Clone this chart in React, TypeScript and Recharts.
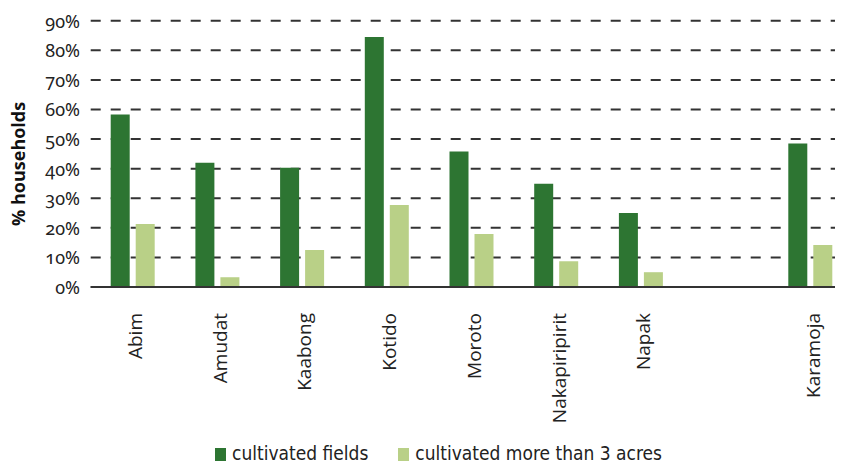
import React from "react";
import { BarChart, Bar, XAxis, YAxis, CartesianGrid, Legend } from "recharts";

const categories = ["Abim", "Amudat", "Kaabong", "Kotido", "Moroto", "Nakapiripirit", "Napak", "", "Karamoja"];
const cultivatedFields = [58.3, 42.0, 40.3, 84.5, 45.8, 34.9, 25.0, null, 48.5];
const moreThan3Acres = [21.3, 3.3, 12.5, 27.7, 17.9, 8.7, 5.0, null, 14.2];
const yTicks = [0, 10, 20, 30, 40, 50, 60, 70, 80, 90];

const DARK = "#2d7532";
const LIGHT = "#b9d087";

const data = categories.map((c, i) => ({
  name: c,
  fields: cultivatedFields[i],
  acres: moreThan3Acres[i],
}));

const XTick = (props: any) => {
  const { x, y, payload } = props;
  return (
    <text
      x={x + 2}
      y={y}
      transform={`rotate(-90 ${x + 2} ${y})`}
      textAnchor="end"
      dominantBaseline="central"
      fontFamily="'Open Sans', sans-serif"
      fontSize={19}
      fill="#222"
    >
      {payload.value}
    </text>
  );
};

const YTick = (props: any) => {
  const { x, y, payload } = props;
  return (
    <text
      x={x}
      y={y}
      textAnchor="end"
      dominantBaseline="central"
      fontFamily="'Noto Sans', sans-serif"
      fontSize={18}
      fill="#222"
      style={{ fontVariantNumeric: "oldstyle-nums" }}
    >
      {payload.value + "%"}
    </text>
  );
};

const LegendContent = (props: any) => {
  const { payload } = props;
  return (
    <div style={{ display: "flex", justifyContent: "flex-start", fontFamily: "'DejaVu Sans Condensed', 'DejaVu Sans', sans-serif", fontSize: 19, color: "#222" }}>
      {payload.map((p: any, i: number) => (
        <div key={i} style={{ display: "flex", alignItems: "flex-end", marginRight: 30 }}>
          <span style={{ display: "inline-block", width: 11, height: 13, background: p.color, marginRight: 6, marginBottom: 2 }} />
          <span style={{ lineHeight: "19px" }}>{p.value}</span>
        </div>
      ))}
    </div>
  );
};

export default function App() {
  return (
    <div style={{ width: 835, height: 458, overflow: "hidden" }}>
      <BarChart
        width={845}
        height={458}
        data={data}
        margin={{ top: 12.7, right: 0, bottom: 0, left: 0 }}
        barSize={19}
        barGap={6}
      >
        <CartesianGrid vertical={false} stroke="#333" strokeWidth={2} strokeDasharray="10 10" />
        <XAxis
          dataKey="name"
          interval={0}
          tick={<XTick />}
          tickLine={false}
          tickSize={0}
          tickMargin={26}
          height={160}
          axisLine={{ stroke: "#333", strokeWidth: 2 }}
        />
        <YAxis
          domain={[0, 90]}
          ticks={yTicks}
          width={82.7}
          tick={<YTick />}
          tickLine={false}
          tickSize={0}
          tickMargin={10.7}
          axisLine={false}
          label={{
            content: (p: any) => {
              const vb = p.viewBox;
              const cx = 10;
              const cy = vb.y + vb.height / 2 + 10;
              return (
                <text
                  x={cx}
                  y={cy}
                  transform={`rotate(-90 ${cx} ${cy})`}
                  textAnchor="middle"
                  dominantBaseline="central"
                  fontFamily="'Open Sans', sans-serif"
                  fontWeight={700}
                  fontSize={18}
                  fill="#111"
                >
                  % households
                </text>
              );
            },
          }}
        />
        <Legend
          content={<LegendContent />}
          wrapperStyle={{ position: "absolute", left: 207, top: 436, width: 600 }}
        />
        <Bar dataKey="fields" name="cultivated fields" fill={DARK} isAnimationActive={false} />
        <Bar dataKey="acres" name="cultivated more than 3 acres" fill={LIGHT} isAnimationActive={false} />
      </BarChart>
    </div>
  );
}
